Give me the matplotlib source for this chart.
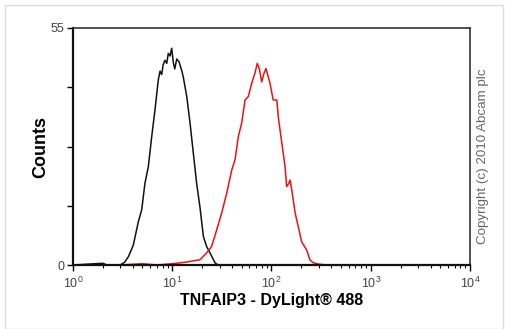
import matplotlib
matplotlib.use("Agg")
import matplotlib.pyplot as plt
from matplotlib.patches import Rectangle
from matplotlib.ticker import LogLocator, FixedLocator, NullFormatter, LogFormatterMathtext

plt.rcParams['font.family'] = ['Liberation Sans', 'DejaVu Sans']
plt.rcParams['mathtext.fontset'] = 'custom'
plt.rcParams['mathtext.rm'] = 'Liberation Sans'

# Isotype control (black)
black_intensity = [1.0, 2.0, 2.2, 2.98, 3.3, 3.61, 4.05, 4.55, 4.92, 5.31, 5.74, 6.21, 6.70,
                   7.23, 7.53, 7.83, 8.1, 8.45, 8.8, 9.12, 9.5, 9.87, 10.25, 10.6, 11.1,
                   11.7, 12.5, 12.9, 14.0, 15.1, 16.3, 17.6, 19.0, 20.6, 22.2, 24.0, 27.0,
                   28.9, 35.0]
black_counts = [0, 0.4, 0, 0, 0.6, 1.9, 4.6, 10.0, 12.8, 19.0, 22.8, 29.8, 36.0,
                42.9, 45.0, 44.2, 46.5, 47.5, 46.8, 49.1, 48.5, 50.3, 47.0, 45.5, 47.8,
                47.2, 45.0, 43.7, 39.1, 33.0, 26.0, 19.0, 13.5, 6.6, 4.3, 2.8, 0.5,
                0, 0]

# TNFAIP3 stained (red)
red_intensity = [3.0, 5.0, 7.0, 10.0, 12.0, 14.1, 16.5, 19.0, 22.2, 24.9, 28.0, 31.5, 35.4,
                 39.7, 42.9, 46.3, 50.1, 54.1, 58.4, 63.2, 68.2, 71.9, 75.5, 79.6, 84.0,
                 88.0, 96.5, 104, 113, 117, 127, 137, 142, 148, 154, 160, 173, 186, 201,
                 226, 244, 264, 300, 362, 1000]
red_counts = [0, 0.3, 0, 0.3, 0.5, 0.7, 1.0, 1.2, 2.8, 4.3, 8.1, 12.1, 16.7,
              22.0, 24.4, 29.8, 33.0, 38.3, 39.1, 42.2, 44.6, 46.8, 45.5, 42.5, 44.5,
              45.6, 42.2, 38.3, 38.3, 34.4, 28.3, 22.8, 18.2, 18.8, 19.7, 17.4, 12.1, 8.9, 5.4,
              3.5, 1.2, 0.5, 0.2, 0, 0]

y_ticks = [0, 13.75, 27.5, 41.25, 55]
y_ticklabels = ['0', '', '', '', '55']

W, H = 506, 329
fig = plt.figure(figsize=(W / 100, H / 100), dpi=100)
fig.patch.set_facecolor('white')
fig.add_artist(Rectangle((5 / W, 0), (503 - 5) / W, (H - 5) / H, transform=fig.transFigure,
                         fill=False, edgecolor='#dcdcdc', linewidth=1.0))

ax = fig.add_axes([73 / W, 1 - 265 / H, (470 - 73) / W, (265 - 28) / H])
ax.plot(black_intensity, black_counts, color='#111111', linewidth=1.1)
ax.plot(red_intensity, red_counts, color='#ee1111', linewidth=1.1)

ax.set_xscale('log')
ax.set_xlim(1, 1e4)
ax.set_ylim(0, 55)

ax.xaxis.set_major_locator(LogLocator(base=10, numticks=10))
ax.xaxis.set_major_formatter(LogFormatterMathtext())
ax.xaxis.set_minor_locator(LogLocator(base=10, subs=range(2, 10), numticks=20))
ax.xaxis.set_minor_formatter(NullFormatter())
ax.yaxis.set_major_locator(FixedLocator(y_ticks))
ax.set_yticklabels(y_ticklabels)

for side in ['left', 'bottom']:
    ax.spines[side].set_linewidth(1.6)
    ax.spines[side].set_color('#111111')
for side in ['top', 'right']:
    ax.spines[side].set_linewidth(1.2)
    ax.spines[side].set_color('#333333')

ax.tick_params(axis='x', which='major', direction='out', length=4, width=1.0,
               labelsize=9, labelcolor='#444444', pad=4)
ax.tick_params(axis='x', which='minor', direction='out', length=2.5, width=0.8)
ax.tick_params(axis='y', which='major', direction='out', length=4, width=1.0,
               labelsize=9, labelcolor='#444444', pad=2)

ax.set_xlabel('TNFAIP3 - DyLight\u00ae 488', fontsize=11.5, fontweight='bold', labelpad=1)
ax.set_ylabel('Counts', fontsize=13, fontweight='bold', labelpad=1)

fig.text(483 / W, 1 - 156 / H, 'Copyright (c) 2010 Abcam plc', rotation=90,
         ha='center', va='center', fontsize=9.6, color='#666666')

fig.savefig('out.png', dpi=100, facecolor='white')
